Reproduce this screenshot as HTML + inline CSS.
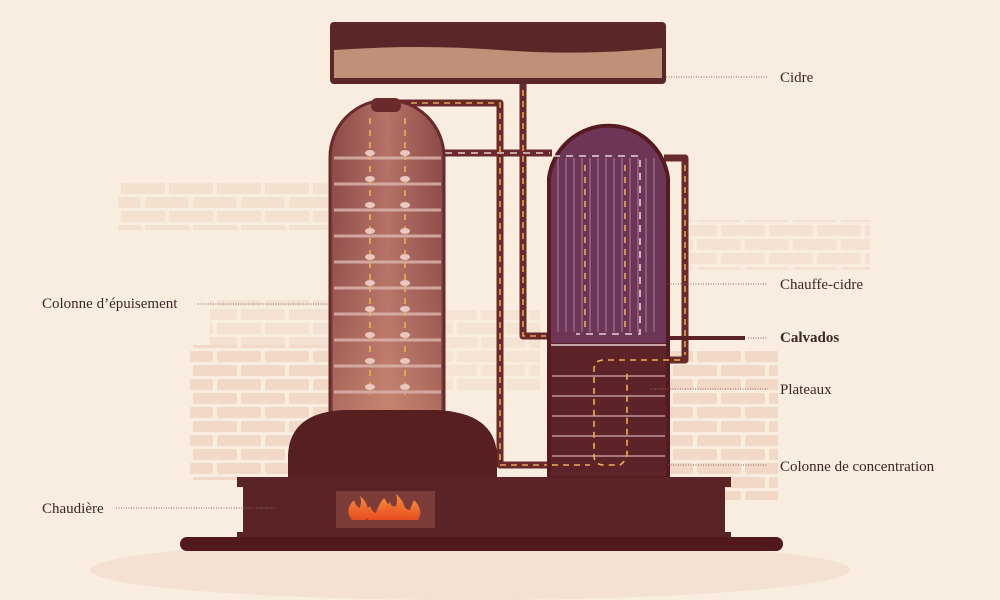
<!DOCTYPE html>
<html><head><meta charset="utf-8"><style>
html,body{margin:0;padding:0;background:#f8eddf;}
svg{display:block}
text{font-family:"Liberation Serif",serif;font-size:15px;fill:#3e2626}
</style></head><body>
<svg width="1000" height="600" viewBox="0 0 1000 600" xmlns="http://www.w3.org/2000/svg">
<defs>
<linearGradient id="lc" x1="0" x2="1" y1="0" y2="0">
<stop offset="0" stop-color="#8a4848"/><stop offset="0.5" stop-color="#b87468"/><stop offset="1" stop-color="#8a4848"/></linearGradient>
<linearGradient id="lcv" x1="0" x2="0" y1="0" y2="1">
<stop offset="0" stop-color="#8a4646" stop-opacity="0"/><stop offset="1" stop-color="#e0a080" stop-opacity="0.5"/></linearGradient>
<pattern id="br" width="48" height="28" patternUnits="userSpaceOnUse">
<rect x="1" y="1" width="44" height="11" rx="2" fill="#f0d2bf"/>
<rect x="-23" y="15" width="44" height="11" rx="2" fill="#f0d2bf"/>
<rect x="25" y="15" width="44" height="11" rx="2" fill="#f0d2bf"/>
</pattern>
<linearGradient id="fl" x1="0" y1="0" x2="0" y2="1"><stop offset="0" stop-color="#f48a3a"/><stop offset="1" stop-color="#e84a20"/></linearGradient>
</defs>
<rect width="1000" height="600" fill="#f8eddf"/>
<!-- bricks -->
<rect x="118" y="180" width="210" height="50" fill="url(#br)" opacity="0.5"/>
<rect x="690" y="220" width="180" height="50" fill="url(#br)" opacity="0.45"/>
<rect x="190" y="345" width="150" height="135" fill="url(#br)" opacity="0.75"/>
<rect x="210" y="300" width="120" height="45" fill="url(#br)" opacity="0.45"/>
<rect x="668" y="350" width="110" height="150" fill="url(#br)" opacity="0.75"/>
<rect x="420" y="310" width="120" height="80" fill="url(#br)" opacity="0.35"/>
<ellipse cx="470" cy="570" rx="380" ry="30" fill="#f2d9c8" opacity="0.6"/>

<!-- cider tank -->
<rect x="330" y="22" width="336" height="62" rx="4" fill="#5a2628"/>
<path d="M334 50 Q420 44 500 50 T662 48 L662 78 L334 78Z" fill="#c09078"/>

<!-- pipes (back) -->
<g fill="none" stroke="#6a2a2c" stroke-width="7" stroke-linejoin="round">
<path d="M523 84 V336 H552"/>
<path d="M386 103 H500 V465 H552"/>
<path d="M440 153 H552"/>
<path d="M664 158 H685 V360 H664"/>
</g>
<g fill="none" stroke="#e8a54e" stroke-width="1.6" stroke-dasharray="6 5">
<path d="M523 90 V336 H546"/>
<path d="M400 103 H500 V465 H552"/>
<path d="M685 165 V355"/>
</g>
<path d="M445 153 H550" stroke="#e8d0d0" stroke-width="1.4" stroke-dasharray="7 6" fill="none"/>
<path d="M668 338 H745" stroke="#5a2226" stroke-width="4"/>

<!-- left column -->
<path d="M330 440 V157 A57 57 0 0 1 444 157 V440Z" fill="url(#lc)" stroke="#6a2a2c" stroke-width="3"/>
<path d="M333 440 V157 A54 54 0 0 1 441 157 V440Z" fill="url(#lcv)"/>
<rect x="371" y="98" width="30" height="14" rx="6" fill="#6a2a2c"/>
<g stroke="#d8b4ac" stroke-width="3" opacity="0.85">
<line x1="334" y1="158" x2="441" y2="158"/><line x1="334" y1="184" x2="441" y2="184"/>
<line x1="334" y1="210" x2="441" y2="210"/><line x1="334" y1="236" x2="441" y2="236"/>
<line x1="334" y1="262" x2="441" y2="262"/><line x1="334" y1="288" x2="441" y2="288"/>
<line x1="334" y1="314" x2="441" y2="314"/><line x1="334" y1="340" x2="441" y2="340"/>
<line x1="334" y1="366" x2="441" y2="366"/><line x1="334" y1="392" x2="441" y2="392"/>
</g>
<g stroke="#f0b050" stroke-width="1.6" stroke-dasharray="6 6">
<line x1="370" y1="118" x2="370" y2="395"/><line x1="405" y1="118" x2="405" y2="395"/>
</g>
<g fill="#e8c8c0">
<ellipse cx="370" cy="153" rx="5" ry="3"/><ellipse cx="405" cy="153" rx="5" ry="3"/>
<ellipse cx="370" cy="179" rx="5" ry="3"/><ellipse cx="405" cy="179" rx="5" ry="3"/>
<ellipse cx="370" cy="205" rx="5" ry="3"/><ellipse cx="405" cy="205" rx="5" ry="3"/>
<ellipse cx="370" cy="231" rx="5" ry="3"/><ellipse cx="405" cy="231" rx="5" ry="3"/>
<ellipse cx="370" cy="257" rx="5" ry="3"/><ellipse cx="405" cy="257" rx="5" ry="3"/>
<ellipse cx="370" cy="283" rx="5" ry="3"/><ellipse cx="405" cy="283" rx="5" ry="3"/>
<ellipse cx="370" cy="309" rx="5" ry="3"/><ellipse cx="405" cy="309" rx="5" ry="3"/>
<ellipse cx="370" cy="335" rx="5" ry="3"/><ellipse cx="405" cy="335" rx="5" ry="3"/>
<ellipse cx="370" cy="361" rx="5" ry="3"/><ellipse cx="405" cy="361" rx="5" ry="3"/>
<ellipse cx="370" cy="387" rx="5" ry="3"/><ellipse cx="405" cy="387" rx="5" ry="3"/>
</g>

<!-- right column -->
<path d="M549 478 V178 A60 60 0 0 1 668 178 V478Z" fill="#5c2428" stroke="#561a20" stroke-width="4"/>
<path d="M551 343 V178 A58 58 0 0 1 666 178 V343Z" fill="#6e3656"/>
<line x1="551" y1="345" x2="666" y2="345" stroke="#c8a0a8" stroke-width="2"/>
<g stroke="#b890b0" stroke-width="1" opacity="0.8">
<line x1="558" y1="158" x2="558" y2="332"/><line x1="566" y1="158" x2="566" y2="332"/>
<line x1="574" y1="158" x2="574" y2="332"/><line x1="582" y1="158" x2="582" y2="332"/>
<line x1="590" y1="158" x2="590" y2="332"/><line x1="598" y1="158" x2="598" y2="332"/>
<line x1="606" y1="158" x2="606" y2="332"/><line x1="614" y1="158" x2="614" y2="332"/>
<line x1="622" y1="158" x2="622" y2="332"/><line x1="630" y1="158" x2="630" y2="332"/>
<line x1="638" y1="158" x2="638" y2="332"/><line x1="646" y1="158" x2="646" y2="332"/>
<line x1="654" y1="158" x2="654" y2="332"/>
</g>
<path d="M553 156 H640 V334 H576" fill="none" stroke="#e8d0e0" stroke-width="1.6" stroke-dasharray="7 6"/>
<g stroke="#f0b050" stroke-width="1.6" stroke-dasharray="6 6">
<line x1="585" y1="165" x2="585" y2="330"/><line x1="625" y1="165" x2="625" y2="330"/>
</g>
<g stroke="#a87880" stroke-width="2">
<line x1="552" y1="376" x2="665" y2="376"/><line x1="552" y1="396" x2="665" y2="396"/>
<line x1="552" y1="416" x2="665" y2="416"/><line x1="552" y1="436" x2="665" y2="436"/>
<line x1="552" y1="456" x2="665" y2="456"/>
</g>
<path d="M680 360 H604 Q594 360 594 370 V455 Q594 465 604 465 H620 Q625 462 627 455 V370" fill="none" stroke="#f0b050" stroke-width="1.6" stroke-dasharray="6 5"/>
<path d="M552 465 H590" stroke="#f0b050" stroke-width="1.6" stroke-dasharray="6 5"/>

<!-- boiler -->
<path d="M288 478 V455 Q290 412 345 410 H435 Q495 412 497 455 V478Z" fill="#55201f"/>
<path d="M237 477 H731 V487 H725 V532 H731 V540 H237 V532 H243 V487 H237Z" fill="#5a2426"/>
<rect x="180" y="537" width="603" height="14" rx="7" fill="#51191c"/>
<rect x="336" y="491" width="99" height="37" fill="#7c3c3a"/>
<g fill="url(#fl)">
<path d="M352 520 Q344 510 354 500 Q356 507 360 508 Q362 502 360 496 Q372 506 366 520Z"/>
<path d="M368 520 Q362 512 370 506 Q372 512 376 513 Q378 505 384 498 Q392 508 386 520Z"/>
<path d="M386 520 Q380 510 390 502 Q392 508 396 506 Q398 500 396 494 Q410 506 402 520Z"/>
<path d="M402 520 Q398 512 404 506 Q406 510 410 510 Q412 504 414 500 Q424 510 418 520Z"/>
</g>

<!-- leader lines -->
<g stroke="#8a6a60" stroke-width="1" stroke-dasharray="1 1.5">
<line x1="666" y1="77" x2="768" y2="77"/>
<line x1="668" y1="284" x2="768" y2="284"/>
<line x1="748" y1="338" x2="768" y2="338"/>
<line x1="650" y1="389" x2="768" y2="389"/>
<line x1="668" y1="465" x2="768" y2="465"/>
<line x1="198" y1="304" x2="328" y2="304"/>
<line x1="116" y1="508" x2="276" y2="508"/>
</g>
<text x="780" y="82">Cidre</text>
<text x="780" y="289">Chauffe-cidre</text>
<text x="780" y="342" font-weight="bold">Calvados</text>
<text x="780" y="394">Plateaux</text>
<text x="780" y="471">Colonne de concentration</text>
<text x="42" y="308">Colonne d’épuisement</text>
<text x="42" y="513">Chaudière</text>
</svg>
</body></html>
